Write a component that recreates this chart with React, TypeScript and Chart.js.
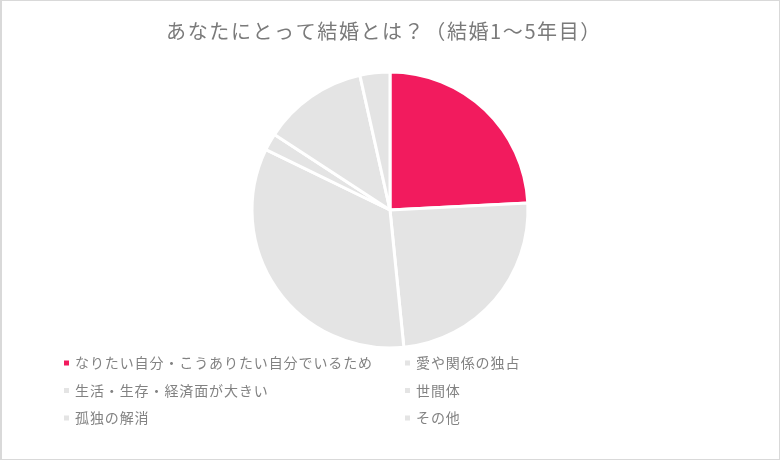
import { useEffect, useRef } from 'react';
import Chart from 'chart.js/auto';

const TITLE = 'あなたにとって結婚とは？（結婚1〜5年目）';
const LABELS = [
  'なりたい自分・こうありたい自分でいるため',
  '愛や関係の独占',
  '生活・生存・経済面が大きい',
  '世間体',
  '孤独の解消',
  'その他'
];
const VALUES = [24.2, 24.2, 33.8, 2.0, 12.3, 3.5];

const C = {
  pink: '#F21B5E',
  gray: '#E4E4E4',
  title: '#7A7A7A',
  text: '#828282',
  frame: '#D9D9D9'
};
const COLORS = [C.pink, C.gray, C.gray, C.gray, C.gray, C.gray];
const FONT = '"Noto Sans CJK JP", "Noto Sans", sans-serif';

// title + two-column legend drawn like the Excel original
const textPlugin = {
  id: 'excelText',
  afterDraw(chart: Chart) {
    const { ctx } = chart;
    ctx.save();
    ctx.fillStyle = C.title;
    ctx.textBaseline = 'middle';
    ctx.textAlign = 'center';
    ctx.font = '20px ' + FONT;
    (ctx as any).letterSpacing = '1.6px';
    ctx.fillText(TITLE, 384, 31);

    ctx.textAlign = 'left';
    ctx.font = '14px ' + FONT;
    (ctx as any).letterSpacing = '0.9px';
    const labels = chart.data.labels as string[];
    const colors = chart.data.datasets[0].backgroundColor as string[];
    labels.forEach((l, i) => {
      const x = i % 2 === 0 ? 64 : 405;
      const y = 363 + Math.floor(i / 2) * 27.5;
      ctx.fillStyle = colors[i];
      ctx.fillRect(x, y - 2.5, 5, 5);
      ctx.fillStyle = C.text;
      ctx.fillText(l, x + 11, y);
    });
    ctx.restore();
  }
};

export default function App() {
  const ref = useRef<HTMLCanvasElement | null>(null);

  useEffect(() => {
    let chart: Chart | null = null;
    if (ref.current) {
      chart = new Chart(ref.current, {
        type: 'pie',
        data: {
          labels: LABELS,
          datasets: [
            {
              data: VALUES,
              backgroundColor: COLORS,
              borderColor: '#FFFFFF',
              borderWidth: 3
            }
          ]
        },
        options: {
          responsive: true,
          maintainAspectRatio: false,
          animation: false,
          events: [],
          radius: 138,
          layout: {
            padding: { top: 62, bottom: 102, left: 0, right: 0 }
          },
          plugins: {
            legend: { display: false },
            title: { display: false },
            tooltip: { enabled: false }
          }
        },
        plugins: [textPlugin]
      });
    }
    return () => {
      if (chart) chart.destroy();
    };
  }, []);

  return (
    <div style={{ position: 'fixed', left: 0, top: 0, width: 780, height: 460, background: '#fff' }}>
      <div style={{ position: 'absolute', inset: 0 }}>
        <canvas ref={ref}></canvas>
      </div>
      <div
        style={{
          position: 'absolute',
          inset: 0,
          border: '1px solid ' + C.frame,
          borderLeftWidth: 2,
          pointerEvents: 'none'
        }}
      ></div>
    </div>
  );
}
